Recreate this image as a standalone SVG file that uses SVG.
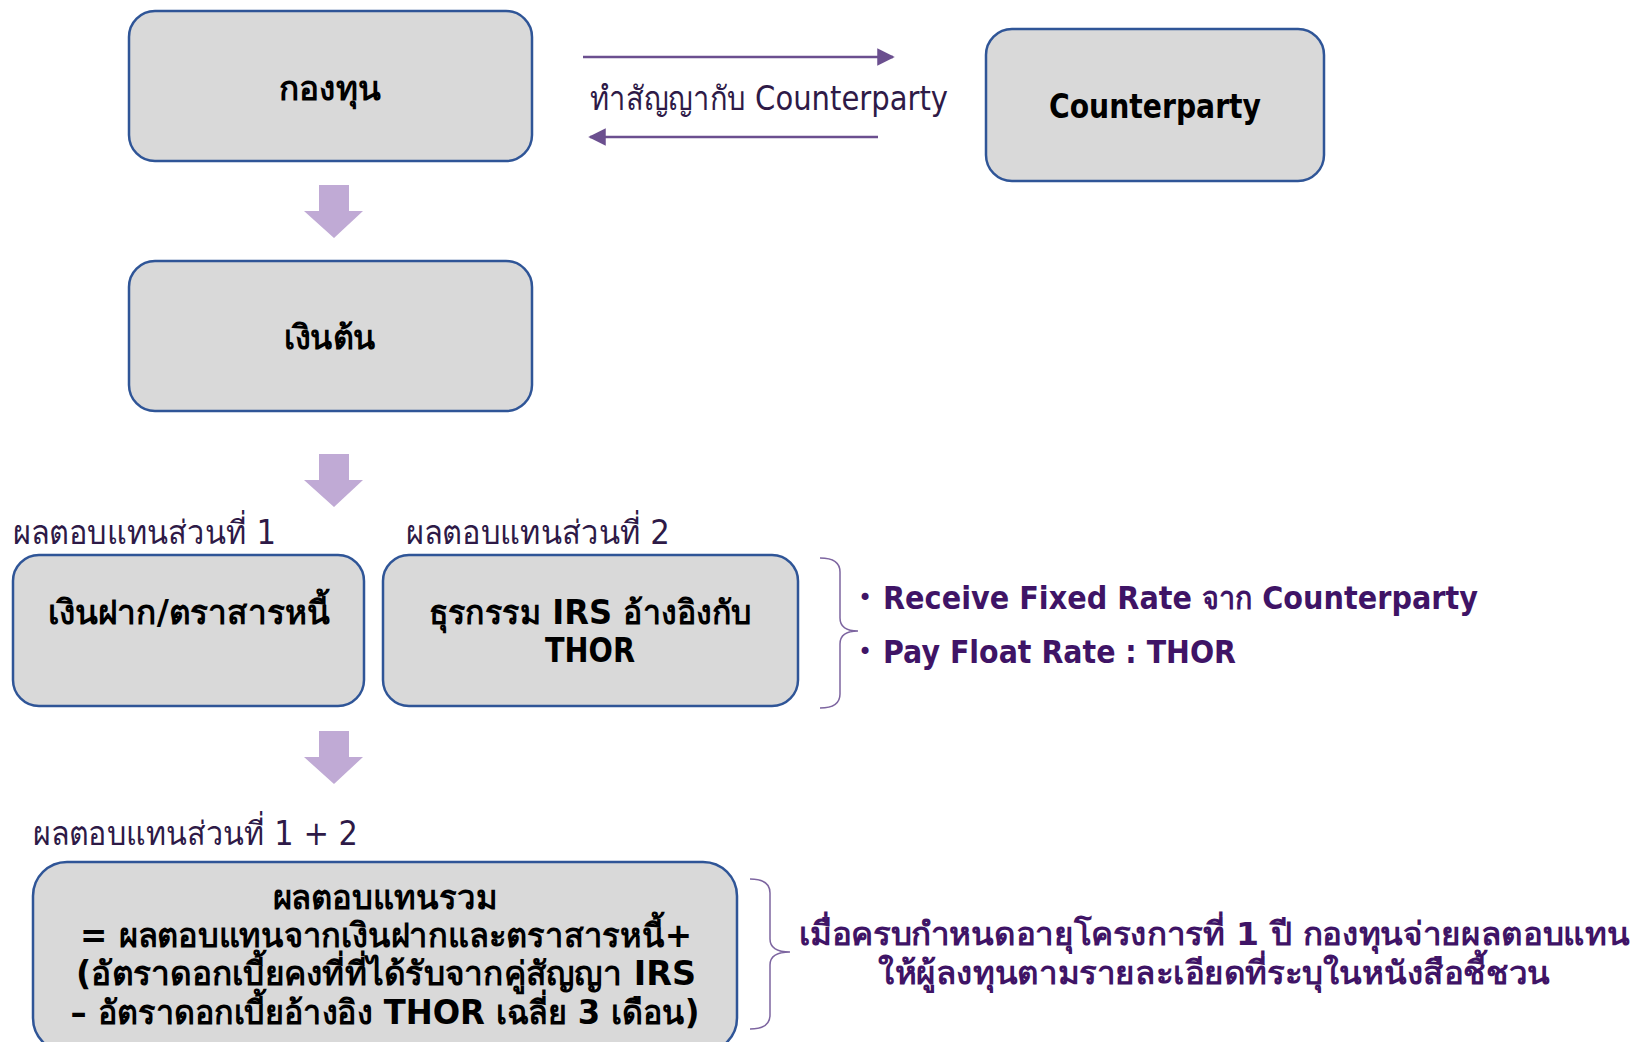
<svg xmlns="http://www.w3.org/2000/svg" width="1633" height="1042" viewBox="0 0 1633 1042">
<defs>
<style>
.box{fill:#D9D9D9;stroke:#2F5597;stroke-width:2.5}
.bt{font-family:Tahoma,"DejaVu Sans","Noto Sans",sans-serif;font-weight:bold;font-size:33px;fill:#000;text-anchor:middle}
.lbl{font-family:Tahoma,"DejaVu Sans","Noto Sans",sans-serif;font-size:33px;fill:#2E1A47}
.pur{font-family:Tahoma,"DejaVu Sans","Noto Sans",sans-serif;font-weight:bold;font-size:32px;fill:#3F1466}
.bul{font-family:"DejaVu Sans",sans-serif;font-size:24px;fill:#3F1466}
.conn{stroke:#6B4F8F;stroke-width:2.5;fill:none}
.blk{fill:#C0AAD5}
.brace{stroke:#7D65A0;stroke-width:1.5;fill:none}
</style>
<marker id="ah" viewBox="0 0 10 10" refX="9" refY="5" markerWidth="7" markerHeight="7" markerUnits="strokeWidth" orient="auto-start-reverse">
<path d="M0,0 L10,5 L0,10 z" fill="#6B4F8F"/>
</marker>
</defs>
<rect width="1633" height="1042" fill="#fff"/>

<g id="fund">
<rect class="box" x="129" y="11" width="403" height="150" rx="26"/>
<text class="bt" x="330" y="100" textLength="102" lengthAdjust="spacingAndGlyphs">กองทุน</text>
</g>
<g id="counterparty">
<rect class="box" x="986" y="29" width="338" height="152" rx="26"/>
<text class="bt" x="1155" y="118" textLength="212" lengthAdjust="spacingAndGlyphs">Counterparty</text>
</g>
<g id="principal">
<rect class="box" x="129" y="261" width="403" height="150" rx="26"/>
<text class="bt" x="330" y="349" textLength="92" lengthAdjust="spacingAndGlyphs">เงินต้น</text>
</g>
<g id="part1">
<text class="lbl" x="13" y="544" textLength="263" lengthAdjust="spacingAndGlyphs">ผลตอบแทนส่วนที่ 1</text>
<rect class="box" x="13" y="555" width="351" height="151" rx="26"/>
<text class="bt" x="189" y="624" textLength="283" lengthAdjust="spacingAndGlyphs">เงินฝาก/ตราสารหนี้</text>
</g>
<g id="part2">
<text class="lbl" x="406" y="544" textLength="264" lengthAdjust="spacingAndGlyphs">ผลตอบแทนส่วนที่ 2</text>
<rect class="box" x="383" y="555" width="415" height="151" rx="26"/>
<text class="bt" x="590" y="624" textLength="323" lengthAdjust="spacingAndGlyphs">ธุรกรรม IRS อ้างอิงกับ</text>
<text class="bt" x="590" y="662" textLength="90" lengthAdjust="spacingAndGlyphs">THOR</text>
</g>
<g id="irs-notes">
<path class="brace" d="M820,558 Q840,558 840,572 L840,618 Q840,631 858,631 Q840,631 840,644 L840,694 Q840,708 820,708"/>
<text class="bul" x="858" y="606">•</text>
<text class="pur" x="883" y="609" textLength="595" lengthAdjust="spacingAndGlyphs">Receive Fixed Rate จาก Counterparty</text>
<text class="bul" x="858" y="660">•</text>
<text class="pur" x="883" y="663" textLength="353" lengthAdjust="spacingAndGlyphs">Pay Float Rate : THOR</text>
</g>
<g id="total">
<text class="lbl" x="33" y="845" textLength="325" lengthAdjust="spacingAndGlyphs">ผลตอบแทนส่วนที่ 1 + 2</text>
<rect class="box" x="33" y="862" width="704" height="190" rx="34"/>
<text class="bt" x="385" y="909" textLength="225" lengthAdjust="spacingAndGlyphs">ผลตอบแทนรวม</text>
<text class="bt" x="386" y="947" textLength="612" lengthAdjust="spacingAndGlyphs">= ผลตอบแทนจากเงินฝากและตราสารหนี้+</text>
<text class="bt" x="386" y="985" textLength="620" lengthAdjust="spacingAndGlyphs">(อัตราดอกเบี้ยคงที่ที่ได้รับจากคู่สัญญา IRS</text>
<text class="bt" x="385" y="1024" textLength="629" lengthAdjust="spacingAndGlyphs">– อัตราดอกเบี้ยอ้างอิง THOR เฉลี่ย 3 เดือน)</text>
</g>
<g id="maturity-note">
<path class="brace" d="M750,879 Q770,879 770,893 L770,939 Q770,952 790,952 Q770,952 770,965 L770,1015 Q770,1029 750,1029"/>
<text class="pur" x="1214" y="945" text-anchor="middle" textLength="831" lengthAdjust="spacingAndGlyphs">เมื่อครบกำหนดอายุโครงการที่ 1 ปี กองทุนจ่ายผลตอบแทน</text>
<text class="pur" x="1214" y="984" text-anchor="middle" textLength="672" lengthAdjust="spacingAndGlyphs">ให้ผู้ลงทุนตามรายละเอียดที่ระบุในหนังสือชี้ชวน</text>
</g>

<g id="connectors">
<line class="conn" x1="583" y1="57" x2="893" y2="57" marker-end="url(#ah)"/>
<line class="conn" x1="878" y1="137" x2="590" y2="137" marker-end="url(#ah)"/>
<text class="lbl" x="590" y="110" textLength="358" lengthAdjust="spacingAndGlyphs">ทำสัญญากับ Counterparty</text>
<path class="blk" d="M319,185 H349 V211 H363 L334,238 L304,211 H319 Z"/>
<path class="blk" d="M319,454 H349 V480 H363 L334,507 L304,480 H319 Z"/>
<path class="blk" d="M319,731 H349 V757 H363 L334,784 L304,757 H319 Z"/>
</g>
</svg>
